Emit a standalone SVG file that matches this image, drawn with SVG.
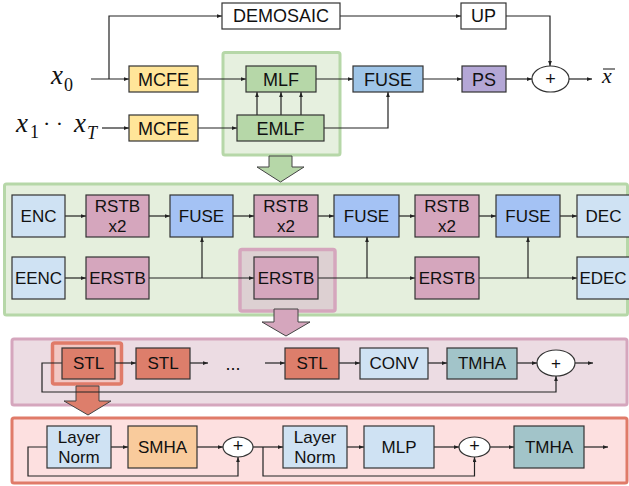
<svg xmlns="http://www.w3.org/2000/svg" width="629" height="486" viewBox="0 0 629 486">
  <defs>
    <marker id="ah" viewBox="0 0 8 6" refX="8" refY="3" markerWidth="5" markerHeight="4" markerUnits="userSpaceOnUse" orient="auto">
      <path d="M0,0 L8,3 L0,6 z" fill="#222"/>
    </marker>
    <style>
      .box { stroke: #333; stroke-width: 1.2; }
      .t { font-family: "Liberation Sans", Arial, sans-serif; font-size: 18px; text-anchor: middle; fill: #111; }
      .s { font-size: 17px; }
      .m { font-family: "Liberation Serif", "Times New Roman", serif; font-style: italic; fill: #111; }
      .n { font-family: "Liberation Serif", "Times New Roman", serif; font-style: normal; fill: #111; }
      .ln { stroke: #222; stroke-width: 1.2; fill: none; }
      .ar { stroke: #222; stroke-width: 1.2; fill: none; marker-end: url(#ah); }
      .frame { stroke-width: 3; }
      .big { stroke: #444; stroke-width: 1; }
    </style>
  </defs>

  <!-- background frames -->
  <rect id="frame-mlf" class="frame" x="223" y="52.5" width="117" height="102.5" rx="2" fill="#e6f0df" stroke="#b6d7a8"/>
  <rect id="frame-stage" class="frame" x="4.5" y="184" width="623" height="131" rx="2" fill="#e5efdd" stroke="#b6d7a8"/>
  <rect id="frame-erstb" x="240" y="249.5" width="95" height="61.5" rx="2" fill="#ddd0d2" stroke="#d5a6bd" stroke-width="3.5"/>
  <rect id="frame-block" class="frame" x="12" y="339" width="615" height="66" rx="2" fill="#ecdce3" stroke="#d5a6bd"/>
  <rect id="frame-stl" x="52.5" y="343" width="69" height="41" rx="2" fill="#f2c7c3" stroke="#e07b69" stroke-width="3.5"/>
  <rect id="frame-layer" class="frame" x="12" y="418" width="615" height="65" rx="2" fill="#fde0e0" stroke="#e07b69"/>

  <!-- expansion arrows -->
  <polygon class="big" points="269,156 292,156 292,167 304,167 280.5,182 257,167 269,167" fill="#b6d7a8"/>
  <polygon class="big" points="274,309 298,309 298,322 310,322 286,336 262,322 274,322" fill="#d5a6bd"/>
  <polygon class="big" points="76,386 99,386 99,401 111,401 88,415 64,401 76,401" fill="#dd7e6b"/>

  <!-- connectors -->
  <g id="connectors">
    <!-- top pipeline -->
    <path class="ar" d="M91,79 H129"/>
    <path class="ar" d="M109,79 V16 H222"/>
    <path class="ar" d="M340,16 H461"/>
    <path class="ar" d="M506,16 H550 V66"/>
    <path class="ar" d="M198,79 H246"/>
    <path class="ar" d="M316,79 H353"/>
    <path class="ar" d="M423,79 H462"/>
    <path class="ar" d="M506,79 H532"/>
    <path class="ar" d="M569,79 H592"/>
    <path class="ar" d="M102,128 H129"/>
    <path class="ar" d="M198,128 H237"/>
    <path class="ar" d="M324,128 H388 V92"/>
    <path class="ar" d="M257,115 V92"/>
    <path class="ar" d="M281,115 V92"/>
    <path class="ar" d="M301,115 V92"/>

    <!-- stage rows -->
    <path class="ar" d="M65,216 H86"/>
    <path class="ar" d="M149,216 H170"/>
    <path class="ar" d="M233,216 H254"/>
    <path class="ar" d="M318,216 H334"/>
    <path class="ar" d="M399,216 H415"/>
    <path class="ar" d="M479,216 H496"/>
    <path class="ar" d="M560,216 H577"/>
    <path class="ar" d="M65,278 H86"/>
    <path class="ar" d="M149,278 H254"/>
    <path class="ar" d="M318,278 H415"/>
    <path class="ar" d="M479,278 H577"/>
    <path class="ar" d="M202,278 V237"/>
    <path class="ar" d="M367,278 V237"/>
    <path class="ar" d="M528,278 V237"/>

    <!-- block row -->
    <path class="ar" d="M115,363 H136"/>
    <path class="ar" d="M190,363 H208"/>
    <path class="ar" d="M265,363 H285"/>
    <path class="ar" d="M339,363 H360"/>
    <path class="ar" d="M428,363 H447"/>
    <path class="ar" d="M517,363 H537"/>
    <path class="ar" d="M575,363 H593"/>
    <path class="ar" d="M62,363 H42 V392 H556 V376"/>

    <!-- layer row -->
    <path class="ar" d="M111,447 H128"/>
    <path class="ar" d="M197,447 H223"/>
    <path class="ar" d="M253,447 H283"/>
    <path class="ar" d="M347,447 H364"/>
    <path class="ar" d="M434,447 H459"/>
    <path class="ar" d="M490,447 H514"/>
    <path class="ar" d="M584,447 H608"/>
    <path class="ar" d="M47,447 H28 V476 H238 V457"/>
    <path class="ar" d="M263,447 V476 H474.5 V457"/>
  </g>

  <!-- top pipeline nodes -->
  <g id="demosaic"><rect class="box" x="222" y="3" width="118" height="26" fill="#fff"/><text class="t" x="281" y="22">DEMOSAIC</text></g>
  <g id="up"><rect class="box" x="461" y="3" width="45" height="26" fill="#fff"/><text class="t" x="483.5" y="22">UP</text></g>
  <g id="mcfe-0"><rect class="box" x="129" y="66" width="69" height="26" fill="#ffe599"/><text class="t" x="163.5" y="85.5">MCFE</text></g>
  <g id="mcfe-1"><rect class="box" x="129" y="115" width="69" height="26" fill="#ffe599"/><text class="t" x="163.5" y="134.5">MCFE</text></g>
  <g id="mlf"><rect class="box" x="246" y="66" width="70" height="26" fill="#b6d7a8"/><text class="t" x="281" y="85.5">MLF</text></g>
  <g id="emlf"><rect class="box" x="237" y="115" width="87" height="26" fill="#b6d7a8"/><text class="t" x="280.5" y="134.5">EMLF</text></g>
  <g id="fuse-top"><rect class="box" x="353" y="66" width="70" height="26" fill="#9fc5e8"/><text class="t" x="388" y="85.5">FUSE</text></g>
  <g id="ps"><rect class="box" x="462" y="66" width="44" height="26" fill="#b4a7d6"/><text class="t" x="484" y="85.5">PS</text></g>
  <g id="sum-top"><ellipse class="box" cx="550.5" cy="79" rx="18.5" ry="13" fill="#fff"/><text class="t" x="550.5" y="85">+</text></g>

  <!-- math labels -->
  <g id="label-x0"><text class="m" x="51" y="84" font-size="27">x</text><text class="n" x="64" y="91" font-size="18">0</text></g>
  <g id="label-xs"><text class="m" x="16" y="132" font-size="27">x</text><text class="n" x="30" y="138" font-size="18">1</text><text class="n" x="43" y="131" font-size="22">· ·</text><text class="m" x="74" y="132" font-size="27">x</text><text class="m" x="87" y="139" font-size="18">T</text></g>
  <g id="label-out"><text class="m" x="602" y="83" font-size="22">x</text><line x1="603" y1="69" x2="615" y2="69" stroke="#111" stroke-width="1"/></g>

  <!-- stage nodes -->
  <g id="enc"><rect class="box" x="12" y="195" width="53" height="42" fill="#cfe2f3"/><text class="t s" x="38.5" y="222">ENC</text></g>
  <g id="rstb-1"><rect class="box" x="86" y="195" width="63" height="42" fill="#d5a6bd"/><text class="t s" x="117.5" y="212">RSTB</text><text class="t s" x="117.5" y="232">x2</text></g>
  <g id="fuse-1"><rect class="box" x="170" y="195" width="63" height="42" fill="#a4c2f4"/><text class="t s" x="201.5" y="222">FUSE</text></g>
  <g id="rstb-2"><rect class="box" x="254" y="195" width="64" height="42" fill="#d5a6bd"/><text class="t s" x="286" y="212">RSTB</text><text class="t s" x="286" y="232">x2</text></g>
  <g id="fuse-2"><rect class="box" x="334" y="195" width="65" height="42" fill="#a4c2f4"/><text class="t s" x="366.5" y="222">FUSE</text></g>
  <g id="rstb-3"><rect class="box" x="415" y="195" width="64" height="42" fill="#d5a6bd"/><text class="t s" x="447" y="212">RSTB</text><text class="t s" x="447" y="232">x2</text></g>
  <g id="fuse-3"><rect class="box" x="496" y="195" width="64" height="42" fill="#a4c2f4"/><text class="t s" x="528" y="222">FUSE</text></g>
  <g id="dec"><rect class="box" x="577" y="195" width="60" height="42" fill="#cfe2f3"/><text class="t s" x="603.5" y="222">DEC</text></g>
  <g id="eenc"><rect class="box" x="12" y="257" width="53" height="42" fill="#cfe2f3"/><text class="t s" x="38.5" y="284">EENC</text></g>
  <g id="erstb-1"><rect class="box" x="86" y="257" width="63" height="42" fill="#d5a6bd"/><text class="t s" x="117.5" y="284">ERSTB</text></g>
  <g id="erstb-2"><rect class="box" x="254" y="257" width="64" height="42" fill="#d5a6bd"/><text class="t s" x="286" y="284">ERSTB</text></g>
  <g id="erstb-3"><rect class="box" x="415" y="257" width="64" height="42" fill="#d5a6bd"/><text class="t s" x="447" y="284">ERSTB</text></g>
  <g id="edec"><rect class="box" x="577" y="257" width="60" height="42" fill="#cfe2f3"/><text class="t s" x="603" y="284">EDEC</text></g>

  <!-- block nodes -->
  <g id="stl-1"><rect class="box" x="62" y="348" width="53" height="31" fill="#dd7e6b"/><text class="t s" x="88.5" y="369">STL</text></g>
  <g id="stl-2"><rect class="box" x="136" y="348" width="54" height="31" fill="#dd7e6b"/><text class="t s" x="163" y="369">STL</text></g>
  <g id="ellipsis"><text class="t" x="233" y="370" font-size="14px">...</text></g>
  <g id="stl-n"><rect class="box" x="285" y="348" width="54" height="31" fill="#dd7e6b"/><text class="t s" x="312" y="369">STL</text></g>
  <g id="conv"><rect class="box" x="360" y="348" width="68" height="31" fill="#cfe2f3"/><text class="t s" x="394" y="369">CONV</text></g>
  <g id="tmha-1"><rect class="box" x="447" y="348" width="70" height="31" fill="#a2c4c9"/><text class="t s" x="482" y="369">TMHA</text></g>
  <g id="sum-block"><ellipse class="box" cx="556" cy="363" rx="19" ry="13" fill="#fff"/><text class="t s" x="556" y="369">+</text></g>

  <!-- layer nodes -->
  <g id="norm-1"><rect class="box" x="47" y="426" width="64" height="42" fill="#cfe2f3"/><text class="t s" x="79" y="443">Layer</text><text class="t s" x="79" y="463">Norm</text></g>
  <g id="smha"><rect class="box" x="128" y="426" width="69" height="42" fill="#f9cb9c"/><text class="t s" x="162.5" y="453">SMHA</text></g>
  <g id="sum-attn"><ellipse class="box" cx="238" cy="447" rx="15" ry="10" fill="#fff"/><text class="t" x="238" y="452" font-size="14px">+</text></g>
  <g id="norm-2"><rect class="box" x="283" y="426" width="64" height="42" fill="#cfe2f3"/><text class="t s" x="315" y="443">Layer</text><text class="t s" x="315" y="463">Norm</text></g>
  <g id="mlp"><rect class="box" x="364" y="426" width="70" height="42" fill="#cfe2f3"/><text class="t s" x="399" y="453">MLP</text></g>
  <g id="sum-mlp"><ellipse class="box" cx="474.5" cy="447" rx="15.5" ry="10" fill="#fff"/><text class="t" x="474.5" y="452" font-size="14px">+</text></g>
  <g id="tmha-2"><rect class="box" x="514" y="426" width="70" height="42" fill="#a2c4c9"/><text class="t s" x="549" y="453">TMHA</text></g>
</svg>
